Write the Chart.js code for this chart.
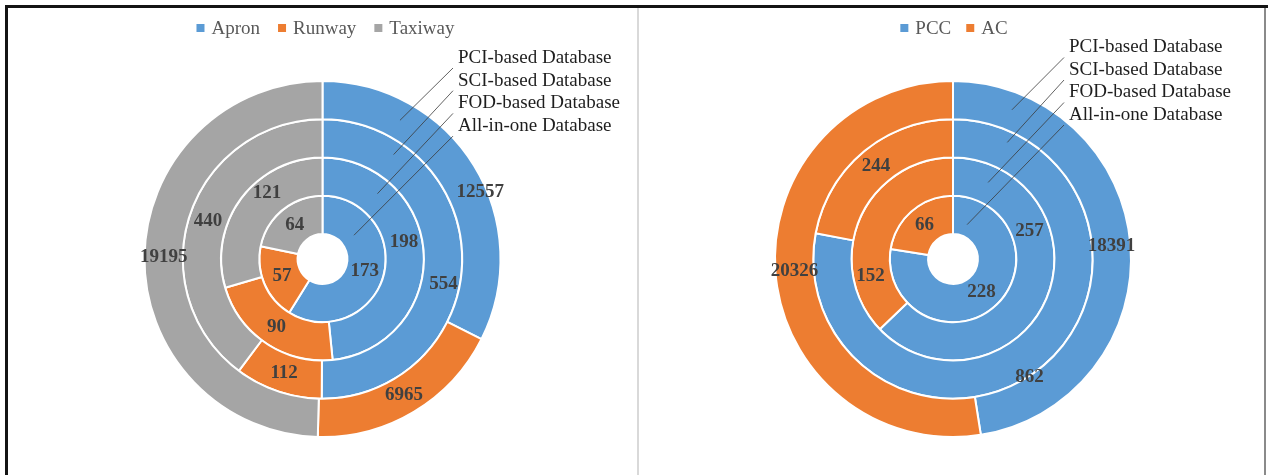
<!DOCTYPE html>
<html>
<head>
<meta charset="utf-8">
<title>Pavement distress records by database</title>
<script src="https://cdn.jsdelivr.net/npm/chart.js@4.4.1/dist/chart.umd.min.js"></script>
<style>
  html, body { margin: 0; padding: 0; background: #ffffff; }
  #wrap { position: relative; width: 1268px; height: 475px; overflow: hidden; background: #ffffff; }
  .panel { position: absolute; top: 0; height: 475px; }
  #leftPanel { left: 0; width: 638px; }
  #rightPanel { left: 638px; width: 630px; }
  .rule { position: absolute; }
</style>
</head>
<body>
<div id="wrap">
  <div class="panel" id="leftPanel"><canvas id="areaChart" width="638" height="475"></canvas></div>
  <div class="panel" id="rightPanel"><canvas id="pavementChart" width="630" height="475"></canvas></div>
  <!-- figure frame -->
  <div class="rule" style="left:5px;top:5px;width:1263px;height:3px;background:#141414;"></div>
  <div class="rule" style="left:5px;top:5px;width:3px;height:470px;background:#141414;"></div>
  <div class="rule" style="left:1264px;top:8px;width:2px;height:467px;background:#8a8a8a;"></div>
  <div class="rule" style="left:637px;top:8px;width:2px;height:467px;background:#d9d9d9;"></div>
</div>
<script>
// Rings, outermost first
const databases = ['PCI-based Database', 'SCI-based Database', 'FOD-based Database', 'All-in-one Database'];

// Records by airfield area
const areaCategories = ['Apron', 'Runway', 'Taxiway'];
const pciByArea = [12557, 6965, 19195];
const sciByArea = [554, 112, 440];
const fodByArea = [198, 90, 121];
const allByArea = [173, 57, 64];

// Records by pavement type
const pavementCategories = ['PCC', 'AC'];
const pciByPavement = [18391, 20326];
const sciByPavement = [862, 244];
const fodByPavement = [257, 152];
const allByPavement = [228, 66];

const areaColors = ['#5b9bd5', '#ed7d31', '#a5a5a5'];
const pavementColors = ['#5b9bd5', '#ed7d31'];

const SERIF = '"Liberation Serif", "Times New Roman", serif';

// Value labels at the middle of each arc, with a few moved clear of the leader lines
const arcValueLabels = {
  id: 'arcValueLabels',
  afterDatasetsDraw(chart, args, opts) {
    const ctx = chart.ctx;
    const nudges = opts.nudges || {};
    ctx.save();
    ctx.font = 'bold 19px ' + SERIF;
    ctx.fillStyle = '#404040';
    ctx.textAlign = 'center';
    ctx.textBaseline = 'middle';
    chart.data.datasets.forEach((ds, di) => {
      const meta = chart.getDatasetMeta(di);
      meta.data.forEach((arc, i) => {
        const p = arc.getProps(['x', 'y', 'startAngle', 'endAngle', 'innerRadius', 'outerRadius'], true);
        const n = nudges[di + ':' + i] || [0, 0];
        const a = (p.startAngle + p.endAngle) / 2 + n[0] * Math.PI / 180;
        const r = (p.innerRadius + p.outerRadius) / 2 + n[1];
        ctx.fillText(String(ds.data[i]), p.x + r * Math.cos(a), p.y + r * Math.sin(a));
      });
    });
    ctx.restore();
  }
};

// Ring names in the upper right, each tied to its ring by a thin leader line
const ringNameTags = {
  id: 'ringNameTags',
  afterDatasetsDraw(chart, args, opts) {
    const ctx = chart.ctx;
    const first = chart.getDatasetMeta(0).data[0].getProps(['x', 'y'], true);
    const tx = first.x + opts.dx;
    ctx.save();
    chart.data.datasets.forEach((ds, di) => {
      const ty = opts.top + di * opts.step;
      const arc = chart.getDatasetMeta(di).data[0];
      const p = arc.getProps(['x', 'y', 'startAngle', 'endAngle', 'innerRadius', 'outerRadius'], true);
      const anchor = opts.anchors[di];
      const a = p.startAngle + anchor[0] * (p.endAngle - p.startAngle);
      const r = p.innerRadius + anchor[1] * (p.outerRadius - p.innerRadius);
      ctx.beginPath();
      ctx.strokeStyle = '#3a3a3a';
      ctx.lineWidth = 0.8;
      ctx.moveTo(tx - 5, ty + 10);
      ctx.lineTo(p.x + r * Math.cos(a), p.y + r * Math.sin(a));
      ctx.stroke();
      ctx.font = '19px ' + SERIF;
      ctx.fillStyle = '#1e1e1e';
      ctx.textAlign = 'left';
      ctx.textBaseline = 'middle';
      ctx.fillText(ds.label, tx, ty);
    });
    ctx.restore();
  }
};

// Category key centred above the rings
const categoryKey = {
  id: 'categoryKey',
  afterDraw(chart, args, opts) {
    const ctx = chart.ctx;
    const labels = chart.data.labels;
    const colors = chart.data.datasets[0].backgroundColor;
    const box = 8, gap = 7, spacing = opts.spacing;
    ctx.save();
    ctx.font = '19px ' + SERIF;
    ctx.textBaseline = 'middle';
    ctx.textAlign = 'left';
    const widths = labels.map(l => ctx.measureText(l).width);
    const total = widths.reduce((s, w) => s + box + gap + w, 0) + spacing * (labels.length - 1);
    const cx = chart.getDatasetMeta(0).data[0].x + opts.shift;
    let x = cx - total / 2;
    labels.forEach((l, i) => {
      ctx.fillStyle = colors[i];
      ctx.fillRect(x, opts.y - box / 2, box, box);
      ctx.fillStyle = '#595959';
      ctx.fillText(l, x + box + gap, opts.y + 1);
      x += box + gap + widths[i] + spacing;
    });
    ctx.restore();
  }
};

function ringDatasets(series, colors) {
  return series.map((values, k) => ({
    label: databases[k],
    data: values,
    backgroundColor: colors,
    borderColor: '#ffffff',
    borderWidth: 2,
    hoverOffset: 0
  }));
}

function ringOptions(padding, nudges, tags, key) {
  return {
    responsive: false,
    animation: false,
    cutout: '14%',
    layout: { padding },
    events: [],
    plugins: {
      legend: { display: false },
      tooltip: { enabled: false },
      arcValueLabels: { nudges },
      ringNameTags: tags,
      categoryKey: key
    }
  };
}

new Chart(document.getElementById('areaChart'), {
  type: 'doughnut',
  data: {
    labels: areaCategories,
    datasets: ringDatasets([pciByArea, sciByArea, fodByArea, allByArea], areaColors)
  },
  options: ringOptions(
    { left: 143.5, top: 80, right: 136.5, bottom: 37 },
    { '0:0': [8.6, 12.5], '1:0': [11.5, 3], '2:0': [-9, 1], '2:2': [13.3, 4] },
    { dx: 135.5, top: 58, step: 22.7,
      anchors: [[0.25, 0.5], [0.19, 0.65], [0.23, 0.58], [0.25, 0.38]] },
    { y: 28, spacing: 18, shift: 3 }
  ),
  plugins: [arcValueLabels, ringNameTags, categoryKey]
});

new Chart(document.getElementById('pavementChart'), {
  type: 'doughnut',
  data: {
    labels: pavementCategories,
    datasets: ringDatasets([pciByPavement, sciByPavement, fodByPavement, allByPavement], pavementColors)
  },
  options: ringOptions(
    { left: 136, top: 80, right: 136, bottom: 37 },
    { '1:0': [6.7, 20], '2:0': [-43, -1], '2:1': [-35, 2] },
    { dx: 116, top: 47.5, step: 22.5,
      anchors: [[0.126, 0.54], [0.089, 0.71], [0.109, 0.55], [0.08, 0.32]] },
    { y: 28, spacing: 15, shift: 1 }
  ),
  plugins: [arcValueLabels, ringNameTags, categoryKey]
});
</script>
</body>
</html>
